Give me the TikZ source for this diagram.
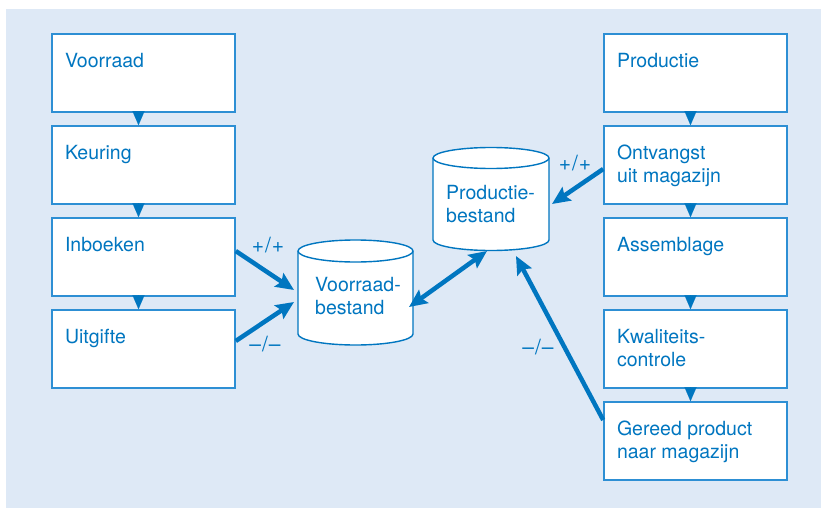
\documentclass[tikz,border=0pt]{standalone}
\usepackage{fontspec}
\setmainfont{TeX Gyre Heros}
\usetikzlibrary{arrows.meta}

\definecolor{ink}{RGB}{0,118,192}
\definecolor{frame}{RGB}{45,143,212}
\definecolor{panel}{RGB}{222,233,246}

% top-aligned text block inside a process box
\newcommand{\boxlines}[1]{\parbox[c][78pt][t]{157pt}{\vspace*{17pt}\strut#1}}

\begin{document}
\begin{tikzpicture}[x=1pt,y=1pt,
  stepbox/.style={draw=frame, line width=1.6pt, fill=white,
    minimum width=183pt, minimum height=78pt, inner sep=0pt,
    text=ink, font=\fontsize{19.5}{23}\selectfont},
  joiner/.style={draw=ink, fill=ink, line width=0.1pt,
    -{Triangle[length=14pt,width=12pt]}},
  tank/.style={draw=ink, line width=1.4pt, fill=white},
  tanklabel/.style={text=ink, align=left, inner sep=0pt,
    font=\fontsize{19.5}{23}\selectfont},
  flow/.style={draw=ink, line width=4.5pt,
    -{Stealth[length=18pt,width=16pt,inset=3pt]}},
  twoway/.style={draw=ink, line width=4.5pt,
    {Stealth[length=18pt,width=16pt,inset=3pt]}-{Stealth[length=18pt,width=16pt,inset=3pt]}},
  sign/.style={text=ink, inner sep=0pt, font=\fontsize{21}{23}\selectfont}]

\useasboundingbox (0,0) rectangle (821,-508);
\fill[panel] (6,-9) rectangle (821,-508);

% left column: stock handling
\node[stepbox] (voorraad) at (143.5,-73)  {\boxlines{Voorraad}};
\node[stepbox] (keuring)  at (143.5,-165) {\boxlines{Keuring}};
\node[stepbox] (inboeken) at (143.5,-257) {\boxlines{Inboeken}};
\node[stepbox] (uitgifte) at (143.5,-349) {\boxlines{Uitgifte}};

% right column: production
\node[stepbox] (productie)  at (695.5,-73)  {\boxlines{Productie}};
\node[stepbox] (ontvangst)  at (695.5,-165) {\boxlines{Ontvangst\\uit magazijn}};
\node[stepbox] (assemblage) at (695.5,-257) {\boxlines{Assemblage}};
\node[stepbox] (kwaliteit)  at (695.5,-349) {\boxlines{Kwaliteits-\\controle}};
\node[stepbox] (gereed)     at (695.5,-441) {\boxlines{Gereed product\\naar magazijn}};

% small triangles between consecutive steps
\foreach \a/\b in {voorraad/keuring, keuring/inboeken, inboeken/uitgifte,
                   productie/ontvangst, ontvangst/assemblage,
                   assemblage/kwaliteit, kwaliteit/gereed}
  \draw[joiner] ([xshift=-5pt]\a.south) -- ([xshift=-5pt]\b.north);

% stock tank
\filldraw[tank] (298,-251) -- (298,-334)
  arc[start angle=180, end angle=360, x radius=57.5, y radius=11]
  -- (413,-251)
  arc[start angle=0, end angle=180, x radius=57.5, y radius=11] -- cycle;
\draw[tank] (298,-251) arc[start angle=180, end angle=360, x radius=57.5, y radius=11];
\node[tanklabel, anchor=base west] (vb) at (315,-314) {Voorraad-\\bestand};

% production tank
\filldraw[tank] (433,-158) -- (433,-240)
  arc[start angle=180, end angle=360, x radius=58, y radius=10.5]
  -- (549,-158)
  arc[start angle=0, end angle=180, x radius=58, y radius=10.5] -- cycle;
\draw[tank] (433,-158) arc[start angle=180, end angle=360, x radius=58, y radius=10.5];
\node[tanklabel, anchor=base west] (pb) at (446,-222) {Productie-\\bestand};

% connector end points on the tanks
\coordinate (vb-in)  at (294,-290);
\coordinate (vb-out) at (294,-302);
\coordinate (vb-pb)  at (409,-307);
\coordinate (pb-vb)  at (487,-251);
\coordinate (pb-in)  at (552,-204);
\coordinate (pb-ret) at (516,-256);

% flows
\draw[flow] ([yshift=6pt]inboeken.east) -- (vb-in);
\draw[flow] ([yshift=-84pt]inboeken.east) -- (vb-out);
\draw[twoway] (vb-pb) -- (pb-vb);
\draw[flow] ([yshift=-4pt]ontvangst.west) -- (pb-in);
\draw[flow] ([yshift=21pt]gereed.west) -- (pb-ret);

% flow signs
\node[sign] (s1) at (268,-245) {+\kern1pt/\kern1pt+};
\node[sign] (s2) at (265,-344) {–\kern1pt/\kern1pt–};
\node[sign] (s3) at (575,-163) {+\kern1pt/\kern1pt+};
\node[sign] (s4) at (538,-347) {–\kern1pt/\kern1pt–};

\end{tikzpicture}
\end{document}
